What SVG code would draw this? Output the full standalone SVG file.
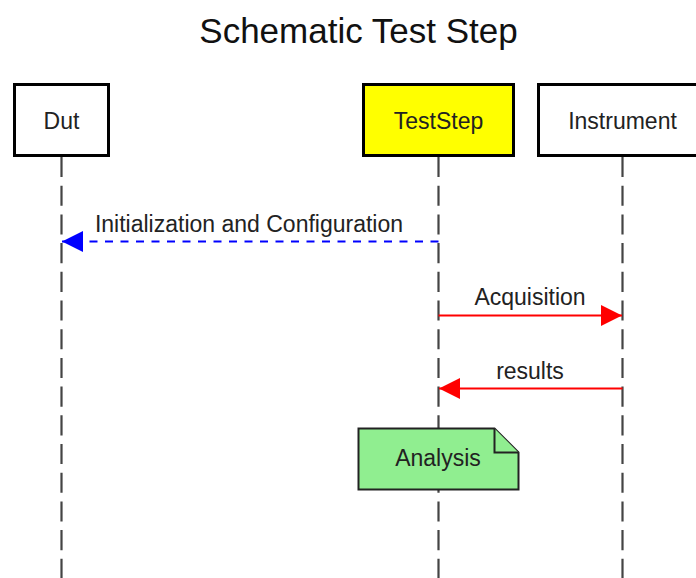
<svg xmlns="http://www.w3.org/2000/svg" width="696" height="578" viewBox="0 0 696 578">
  <style>
    text { font-family: "Liberation Sans", Arial, sans-serif; fill: #222; }
    .title { font-size: 35px; fill: #111; text-anchor: middle; }
    .actor rect { stroke: #000; stroke-width: 3; }
    .actor text { font-size: 23px; text-anchor: middle; dominant-baseline: central; }
    .lifeline { stroke: #444; stroke-width: 2.2; stroke-dasharray: 20.1 8.6; fill: none; }
    .msg-label { font-size: 23px; text-anchor: middle; }
    .sync { stroke: #ff0000; stroke-width: 2; fill: none; }
    .dotted { stroke: #0000ff; stroke-width: 2; stroke-dasharray: 8 7.5; fill: none; }
    .note path { fill: #90ee90; stroke: #222; stroke-width: 2; }
    .note text { font-size: 23px; text-anchor: middle; }
  </style>
  <defs>
    <marker id="head-red" viewBox="0 0 21 21" refX="21" refY="10.5" markerWidth="21" markerHeight="21" markerUnits="userSpaceOnUse" orient="auto">
      <path d="M0,0 L21,10.5 L0,21 Z" fill="#ff0000"/>
    </marker>
    <marker id="head-blue" viewBox="0 0 21 21" refX="21" refY="10.5" markerWidth="21" markerHeight="21" markerUnits="userSpaceOnUse" orient="auto">
      <path d="M0,0 L21,10.5 L0,21 Z" fill="#0000ff"/>
    </marker>
  </defs>

  <rect width="696" height="578" fill="#ffffff"/>

  <text class="title" x="358.5" y="43">Schematic Test Step</text>

  <!-- lifelines -->
  <g id="lifelines">
    <line class="lifeline" x1="61.5" y1="157" x2="61.5" y2="578"/>
    <line class="lifeline" x1="438.5" y1="157" x2="438.5" y2="578"/>
    <line class="lifeline" x1="622.5" y1="157" x2="622.5" y2="578"/>
  </g>

  <!-- participants -->
  <g id="dut" class="actor">
    <rect x="14.5" y="84.5" width="94" height="71" fill="#ffffff"/>
    <text x="61.5" y="121">Dut</text>
  </g>
  <g id="teststep" class="actor">
    <rect x="363.5" y="84.5" width="150" height="71" fill="#ffff00"/>
    <text x="438.5" y="121">TestStep</text>
  </g>
  <g id="instrument" class="actor">
    <rect x="538.5" y="84.5" width="168" height="71" fill="#ffffff"/>
    <text x="622.5" y="121">Instrument</text>
  </g>

  <!-- messages -->
  <g id="connectors">
    <g id="msg-init">
      <line class="dotted" x1="438.5" y1="241.5" x2="62" y2="241.5" marker-end="url(#head-blue)"/>
      <text class="msg-label" x="249" y="231.5">Initialization and Configuration</text>
    </g>
    <g id="msg-acquisition">
      <line class="sync" x1="438.5" y1="315.5" x2="622" y2="315.5" marker-end="url(#head-red)"/>
      <text class="msg-label" x="530" y="305">Acquisition</text>
    </g>
    <g id="msg-results">
      <line class="sync" x1="622.5" y1="388.5" x2="439" y2="388.5" marker-end="url(#head-red)"/>
      <text class="msg-label" x="530" y="379">results</text>
    </g>
  </g>

  <!-- note over TestStep -->
  <g id="note-analysis" class="note">
    <path d="M358.5,428.5 H494.5 L518.5,452.5 V489.5 H358.5 Z"/>
    <path d="M494.5,428.5 V452.5 H518.5" fill="none"/>
    <text x="438" y="465.5">Analysis</text>
  </g>
</svg>
